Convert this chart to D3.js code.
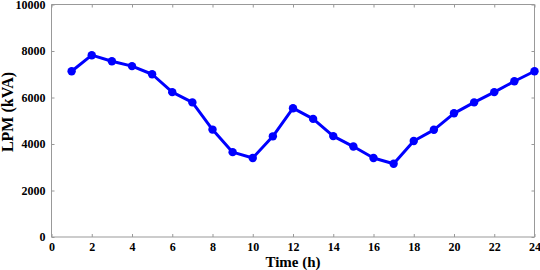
<!DOCTYPE html>
<html lang="en">
<head>
  <meta charset="UTF-8">
  <title>LPM vs Time</title>
  <script src="https://d3js.org/d3.v7.min.js"></script>
  <style>
    body { margin: 0; background: #fff; }
    .axis path, .axis line { stroke: #999; }
    .axis text {
      font-family: "Liberation Serif", "Times New Roman", serif;
      font-size: 12px;
      font-weight: bold;
      fill: #000;
    }
    .label {
      font-family: "Liberation Serif", "Times New Roman", serif;
      font-size: 15px;
      font-weight: bold;
      fill: #000;
      text-anchor: middle;
    }
  </style>
</head>
<body>
  <div id="chart"></div>
  <script>
    // hourly values
    const hours = d3.range(1, 25);
    const lpm = [7130, 7820, 7560, 7350, 7000, 6230, 5790, 4620, 3650, 3400, 4330, 5540,
                 5080, 4340, 3890, 3400, 3150, 4130, 4610, 5320, 5790, 6230, 6700, 7130];
    const xTicks = d3.range(0, 25, 2);
    const yTicks = [0, 2000, 4000, 6000, 8000, 10000];

    const W = 540, H = 270;
    const margin = { top: 4.5, right: 5.5, bottom: 33, left: 51.5 },
          width = W - margin.left - margin.right,
          height = H - margin.top - margin.bottom;

    const svg = d3.select("#chart").append("svg")
      .attr("width", W).attr("height", H);
    const g = svg.append("g")
      .attr("transform", `translate(${margin.left},${margin.top})`);

    const x = d3.scaleLinear().domain([0, 24]).range([0, width]);
    const y = d3.scaleLinear().domain([0, 10000]).range([height, 0]);

    // bottom / left axes with inward ticks
    g.append("g").attr("class", "axis")
      .attr("transform", `translate(0,${height})`)
      .call(d3.axisBottom(x).tickValues(xTicks).tickSize(-3).tickPadding(5))
      .call(a => a.select(".domain").attr("d", `M0,0H${width}`));
    g.append("g").attr("class", "axis")
      .call(d3.axisLeft(y).tickValues(yTicks).tickSize(-3).tickPadding(6).tickFormat(d3.format("d")))
      .call(a => a.select(".domain").attr("d", `M0,0V${height}`));
    // top / right mirror axes
    g.append("g").attr("class", "axis")
      .call(d3.axisTop(x).tickValues(xTicks).tickSize(-3).tickFormat(""))
      .call(a => a.select(".domain").attr("d", `M0,0H${width}`));
    g.append("g").attr("class", "axis")
      .attr("transform", `translate(${width},0)`)
      .call(d3.axisRight(y).tickValues(yTicks).tickSize(-3).tickFormat(""))
      .call(a => a.select(".domain").attr("d", `M0,0V${height}`));

    const data = hours.map((h, i) => ({ h, v: lpm[i] }));

    g.append("path")
      .datum(data)
      .attr("fill", "none")
      .attr("stroke", "#0000ff")
      .attr("stroke-width", 3)
      .attr("stroke-linejoin", "round")
      .attr("d", d3.line().x(d => x(d.h)).y(d => y(d.v)));

    g.selectAll(".dot")
      .data(data)
      .enter().append("circle")
      .attr("class", "dot")
      .attr("cx", d => x(d.h))
      .attr("cy", d => y(d.v))
      .attr("r", 4.2)
      .attr("fill", "#0000ff");

    svg.append("text").attr("class", "label")
      .attr("x", margin.left + width / 2).attr("y", 267)
      .text("Time (h)");
    svg.append("text").attr("class", "label")
      .style("font-size", "16px")
      .attr("transform", "translate(13,112) rotate(-90)")
      .text("LPM (kVA)");
  </script>
</body>
</html>
